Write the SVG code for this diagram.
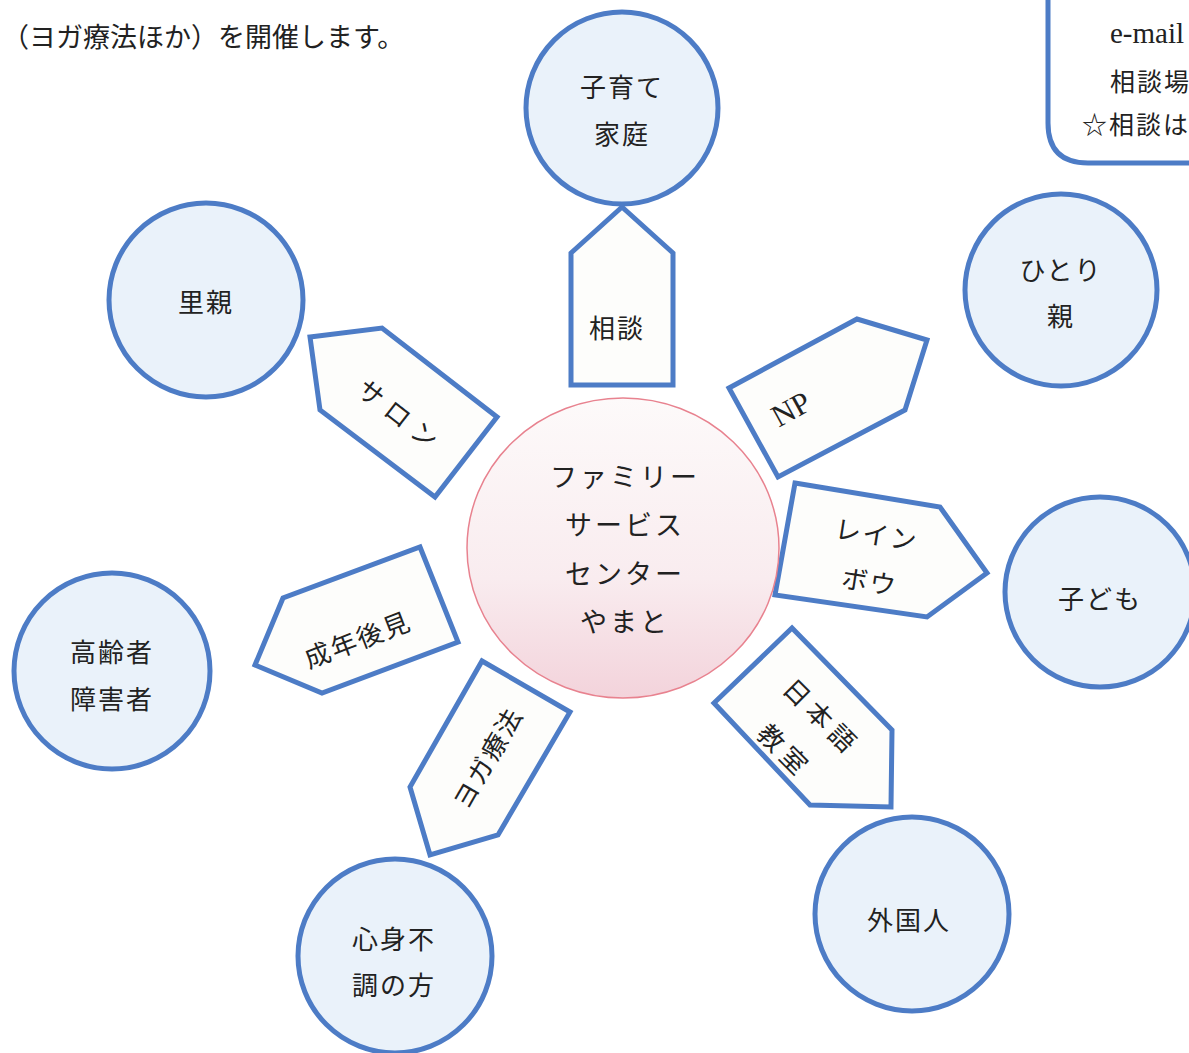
<svg xmlns="http://www.w3.org/2000/svg" width="1189" height="1053" viewBox="0 0 1189 1053">
<style>
text{font-family:"Noto Sans CJK JP","Liberation Serif",sans-serif;fill:#222;dominant-baseline:central;text-anchor:middle}
.c{fill:#eaf2fa;stroke:#4d7cc6;stroke-width:5}
.a{fill:#fdfdfb;stroke:#4d7cc6;stroke-width:5;stroke-linejoin:miter}
.t{font-size:26px;letter-spacing:2px}
.s{font-family:"Liberation Serif",serif}
</style>
<defs>
<linearGradient id="pg" x1="0" y1="0" x2="0" y2="1">
<stop offset="0" stop-color="#fdfafa"/>
<stop offset="0.6" stop-color="#f9ecef"/>
<stop offset="1" stop-color="#f3d3db"/>
</linearGradient>
</defs>
<rect width="1189" height="1053" fill="#fff"/>
<text x="2" y="35" style="text-anchor:start;font-size:27px">（ヨガ療法ほか）を開催します。</text>
<g id="infobox">
<path d="M1048,-10 L1048,123 Q1048,163 1088,163 L1200,163" fill="#fff" stroke="#4d7cc6" stroke-width="5"/>
<text class="s" x="1110" y="33" style="text-anchor:start;font-size:29px">e-mail</text>
<text x="1110" y="80" style="text-anchor:start;font-size:25px;letter-spacing:2px">相談場</text>
<text x="1082" y="123" style="text-anchor:start;font-size:25px;letter-spacing:2px">☆相談は</text>
</g>
<g id="connectors">
<g id="a-soudan"><polygon class="a" points="622,207 673,253 673,385 571,385 571,253"/><text class="t" x="617" y="326">相談</text></g>
<g id="a-salon"><polygon class="a" points="310,337 382,328 497,417 435,497 320,410"/><text class="t" x="402" y="415" transform="rotate(38 402 415)" style="letter-spacing:8px">サロン</text></g>
<g id="a-np"><polygon class="a" points="729,388 857,319 927,340 905,410 778,477"/><text class="s" x="791" y="409" transform="rotate(-29 791 409)" style="font-size:31px">NP</text></g>
<g id="a-rainbow"><polygon class="a" points="795,483 940,507 987,573 927,617 775,595"/><text class="t" x="877" y="533" transform="rotate(9 877 533)">レイン</text><text class="t" x="870" y="580" transform="rotate(9 870 580)">ボウ</text></g>
<g id="a-seinen"><polygon class="a" points="420,547 458,642 322,693 255,665 283,598"/><text class="t" x="357" y="638" transform="rotate(-21 357 638)">成年後見</text></g>
<g id="a-yoga"><polygon class="a" points="482,661 570,712 498,835 430,855 410,787"/><text class="t" x="486" y="757" transform="rotate(-60 486 757)">ヨガ療法</text></g>
<g id="a-nihongo"><polygon class="a" points="792,628 892,730 891,807 810,805 714,703"/><text class="t" x="823" y="716" transform="rotate(45 823 716)" style="letter-spacing:6px">日本語</text><text class="t" x="786" y="750" transform="rotate(45 786 750)" style="letter-spacing:6px">教室</text></g>
</g>
<g id="center">
<ellipse cx="623" cy="548" rx="156" ry="150" fill="url(#pg)" stroke="#e8828f" stroke-width="1.5"/>
<text x="625" y="475" style="font-size:27px;letter-spacing:3px">ファミリー</text>
<text x="625" y="523" style="font-size:27px;letter-spacing:3px">サービス</text>
<text x="625" y="572" style="font-size:27px;letter-spacing:3px">センター</text>
<text x="625" y="620" style="font-size:27px;letter-spacing:3px">やまと</text>
</g>
<g id="n-kosodate"><circle class="c" cx="622" cy="108" r="96"/><text class="t" x="622" y="85">子育て</text><text class="t" x="622" y="132">家庭</text></g>
<g id="n-hitorioya"><circle class="c" cx="1061" cy="290" r="96"/><text class="t" x="1061" y="268">ひとり</text><text class="t" x="1061" y="314">親</text></g>
<g id="n-satooya"><circle class="c" cx="206" cy="300" r="97"/><text class="t" x="206" y="300">里親</text></g>
<g id="n-kodomo"><circle class="c" cx="1100" cy="592" r="95"/><text class="t" x="1100" y="597">子ども</text></g>
<g id="n-koreisha"><circle class="c" cx="112" cy="671" r="98"/><text class="t" x="112" y="650">高齢者</text><text class="t" x="112" y="697">障害者</text></g>
<g id="n-shinshin"><circle class="c" cx="395" cy="956" r="97"/><text class="t" x="394" y="937">心身不</text><text class="t" x="394" y="983">調の方</text></g>
<g id="n-gaikokujin"><circle class="c" cx="912" cy="914" r="97"/><text class="t" x="909" y="918">外国人</text></g>
</svg>
